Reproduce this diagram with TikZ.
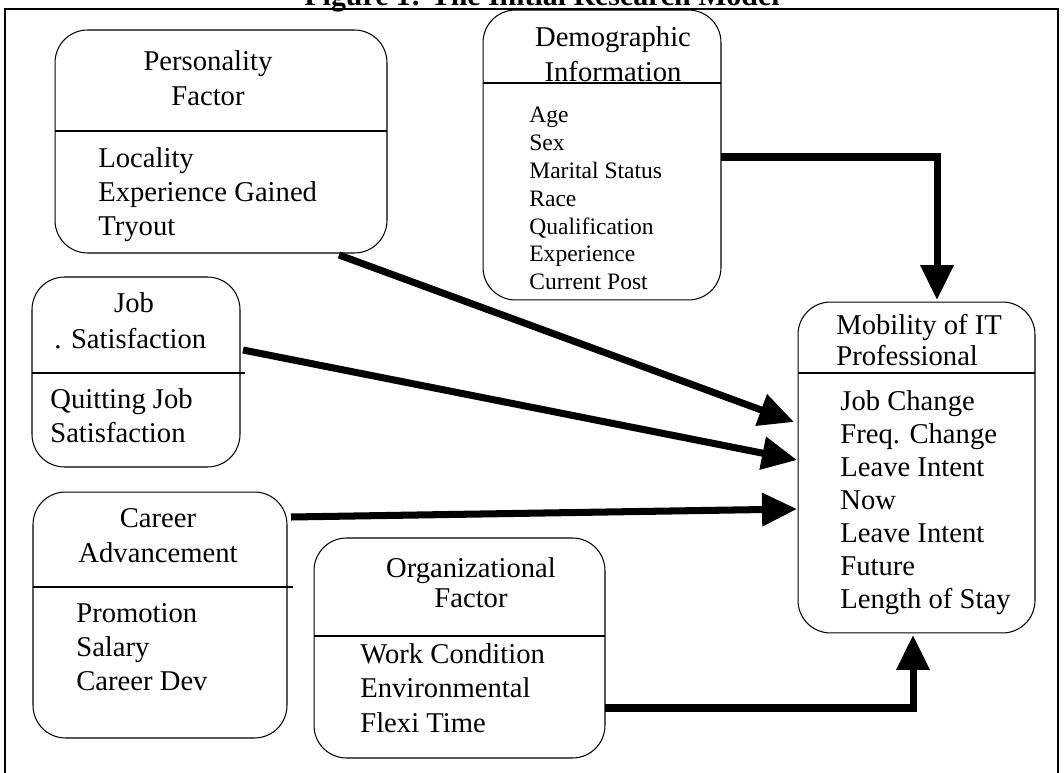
\documentclass[tikz,border=0pt]{standalone}
\usepackage{fontspec}
\setmainfont{Liberation Serif}
\usetikzlibrary{arrows.meta, positioning}
\tikzset{
        factor box/.style={draw, line width=0.6pt, rounded corners=0.65cm, inner sep=0pt}, % rounded frame of each factor
        heading/.style={anchor=base, inner sep=0pt, font=\fontsize{16.3}{20}\selectfont}, % centred title lines
        entry/.style={anchor=base west, inner sep=0pt, font=\fontsize{16.3}{20}\selectfont}, % left aligned items
        small entry/.style={entry, font=\fontsize{13.4}{16}\selectfont},
        flow/.style={line width=4pt, line join=miter, -{Triangle[length=0.7cm,width=0.64cm]}}, % heavy arrows
    }

\begin{document}
\begin{tikzpicture}[x=0.02cm, y=-0.02cm]
    \useasboundingbox (0,0) rectangle (1064,773);
    % outer frame and caption
    \draw[line width=0.8pt] (5,9) rectangle (1058,800);
    \node[anchor=base, inner sep=0pt, font=\bfseries\fontsize{17}{20}\selectfont] (caption) at (542,6) {Figure 1: The Initial Research Model};

    % boxes
    \node[factor box, minimum width=6.64cm, minimum height=4.46cm] (pers) at (221,141.5) {};
    \node[factor box, minimum width=4.76cm, minimum height=5.8cm] (demo) at (602,155) {};
    \node[factor box, minimum width=4.74cm, minimum height=6.62cm] (mob) at (916.5,467.5) {};
    \node[factor box, minimum width=4.16cm, minimum height=3.8cm] (job) at (136,372) {};
    \node[factor box, minimum width=5.08cm, minimum height=4.92cm] (car) at (160,615) {};
    \node[factor box, minimum width=5.82cm, minimum height=4.4cm] (org) at (459.5,648) {};

    % dividers
    \draw[line width=0.6pt] (55,131) -- (387,131);
    \draw[line width=0.6pt] (483,83) -- (721,83);
    \draw[line width=0.6pt] (798,373) -- (1035,373);
    \draw[line width=0.6pt] (32,373) -- (245,373);
    \draw[line width=0.6pt] (33,587) -- (293,587);
    \draw[line width=0.6pt] (314,636) -- (605,636);

    % titles
    \node[heading] (pers-t1) at (208,71) {Personality};
    \node[heading] (pers-t2) at (208,106) {Factor};
    \node[heading] (demo-t1) at (613,47) {Demographic};
    \node[heading] (demo-t2) at (613,82) {Information};
    \node[entry] (mob-t1) at (836,335) {Mobility of IT};
    \node[entry] (mob-t2) at (836,365) {Professional};
    \node[heading] (job-t1) at (134,313) {Job};
    \node[entry] (job-t2) at (54,348) {. Satisfaction};
    \node[heading] (car-t1) at (158,527) {Career};
    \node[heading] (car-t2) at (158,562) {Advancement};
    \node[heading] (org-t1) at (471,577) {Organizational};
    \node[heading] (org-t2) at (471,607) {Factor};

    % items
    \foreach \txt [count=\i] in {Locality, Experience Gained, Tryout}
        \node[entry] (pers-\i) at (98,{168+34*(\i-1)}) {\txt};
    \foreach \txt [count=\i] in {Age, Sex, Marital Status, Race, Qualification, Experience, Current Post}
        \node[small entry] (demo-\i) at (529,{123+27.8*(\i-1)}) {\txt};
    \foreach \txt [count=\i] in {Job Change, Freq. Change, Leave Intent, Now, Leave Intent, Future, Length of Stay}
        \node[entry] (mob-\i) at (840,{410+33*(\i-1)}) {\txt};
    \foreach \txt [count=\i] in {Quitting Job, Satisfaction}
        \node[entry] (job-\i) at (50,{408+34*(\i-1)}) {\txt};
    \foreach \txt [count=\i] in {Promotion, Salary, Career Dev}
        \node[entry] (car-\i) at (76,{622+34*(\i-1)}) {\txt};
    \foreach \txt [count=\i] in {Work Condition, Environmental, Flexi Time}
        \node[entry] (org-\i) at (360,{663+34.5*(\i-1)}) {\txt};

    % arrow ends
    \coordinate (pers-out) at (339,255);
    \coordinate (job-out) at (243,350);
    \coordinate (car-out) at (291,517);
    \coordinate (demo-out) at (721,157);
    \coordinate (org-out) at (605,708);
    \coordinate (mob-in1) at (794,422);
    \coordinate (mob-in2) at (797,460);
    \coordinate (mob-in3) at (797,509);
    \coordinate (mob-top) at (937,300);
    \coordinate (mob-bottom) at (913,635);

    % arrows
    \draw[flow] (pers-out) -- (mob-in1);
    \draw[flow] (job-out) -- (mob-in2);
    \draw[flow] (car-out) -- (mob-in3);
    \draw[flow] (demo-out) -| (mob-top);
    \draw[flow] (org-out) -| (mob-bottom);
\end{tikzpicture}
\end{document}
